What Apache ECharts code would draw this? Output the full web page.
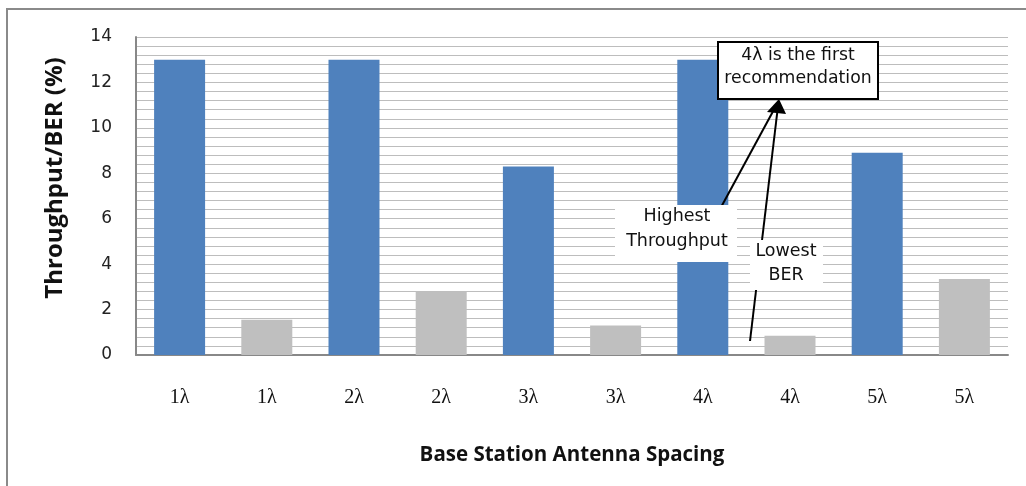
<!DOCTYPE html>
<html>
<head>
<meta charset="utf-8">
<title>Base Station Antenna Spacing</title>
<script src="https://cdn.jsdelivr.net/npm/echarts@6/dist/echarts.min.js"></script>
<style>
  html, body { margin: 0; padding: 0; background: #fff; }
  #main { width: 1026px; height: 486px; }
</style>
</head>
<body>
<div id="main"></div>
<script type="text/javascript">
  // categories along the x axis, one bar each
  var categories = ['1λ', '1λ', '2λ', '2λ', '3λ', '3λ', '4λ', '4λ', '5λ', '5λ'];
  // throughput (blue) and BER (grey) values, one per spacing
  var throughput = [13, 13, 8.3, 13, 8.9];
  var ber = [1.55, 2.8, 1.3, 0.85, 3.35];
  var yMin = 0, yMax = 14, yStep = 2;

  // interleave: blue bar on even slots, grey on odd ones
  var blueData = categories.map(function (c, i) { return i % 2 === 0 ? throughput[i / 2] : '-'; });
  var greyData = categories.map(function (c, i) { return i % 2 === 1 ? ber[(i - 1) / 2] : '-'; });

  var myChart = echarts.init(document.getElementById('main'));

  var annoFont = '"DejaVu Sans", Verdana, sans-serif';

  var option = {
    animation: false,
    grid: { left: 136, right: 18, top: 37, bottom: 131 },
    xAxis: {
      type: 'category',
      data: categories,
      axisTick: { show: false },
      axisLine: { lineStyle: { color: '#888', width: 2 } },
      axisLabel: {
        margin: 33,
        color: '#111',
        fontFamily: '"Liberation Serif", "Times New Roman", serif',
        fontSize: 20
      },
      name: 'Base Station Antenna Spacing',
      nameLocation: 'middle',
      nameGap: 90,
      nameTextStyle: {
        color: '#111',
        fontWeight: 'bold',
        fontFamily: '"Open Sans", sans-serif',
        fontSize: 20.5
      }
    },
    yAxis: {
      type: 'value',
      min: yMin,
      max: yMax,
      interval: yStep,
      axisLine: { show: true, lineStyle: { color: '#888', width: 2 } },
      axisTick: { show: false },
      axisLabel: {
        margin: 24,
        color: '#222',
        fontFamily: annoFont,
        fontSize: 17
      },
      splitLine: { lineStyle: { color: '#bdbdbd', width: 1 } },
      minorTick: { show: false, splitNumber: 5 },
      minorSplitLine: { show: true, lineStyle: { color: '#bdbdbd', width: 1 } }
    },
    series: [
      {
        name: 'Throughput',
        type: 'bar',
        stack: 'one',
        barWidth: 51,
        itemStyle: { color: '#4f81bd' },
        data: blueData
      },
      {
        name: 'BER',
        type: 'bar',
        stack: 'one',
        barWidth: 51,
        itemStyle: { color: '#bfbfbf' },
        data: greyData
      }
    ],
    graphic: [
      // outer frame
      {
        type: 'rect', z: 1, silent: true,
        shape: { x: 7, y: 9, width: 1040, height: 500 },
        style: { fill: 'none', stroke: '#8a8a8a', lineWidth: 2 }
      },
      // arrows
      {
        type: 'line', z: 50,
        shape: { x1: 700, y1: 246, x2: 777, y2: 104 },
        style: { stroke: '#000', lineWidth: 2 }
      },
      {
        type: 'line', z: 50,
        shape: { x1: 750, y1: 341, x2: 778, y2: 106 },
        style: { stroke: '#000', lineWidth: 2 }
      },
      {
        type: 'polygon', z: 50,
        shape: { points: [[779, 99], [767, 112], [786, 114]] },
        style: { fill: '#000' }
      },
      // label boxes
      {
        type: 'rect', z: 60,
        shape: { x: 718, y: 42, width: 160, height: 57 },
        style: { fill: '#fff', stroke: '#000', lineWidth: 2 }
      },
      {
        type: 'text', z: 61,
        x: 798, y: 67,
        style: {
          text: '4λ is the first\nrecommendation',
          align: 'center', verticalAlign: 'middle',
          font: '17.3px ' + annoFont, lineHeight: 23, fill: '#111'
        }
      },
      {
        type: 'rect', z: 60,
        shape: { x: 615, y: 205, width: 122, height: 57 },
        style: { fill: '#fff' }
      },
      {
        type: 'text', z: 61,
        x: 677, y: 229,
        style: {
          text: 'Highest\nThroughput',
          align: 'center', verticalAlign: 'middle',
          font: '17.5px ' + annoFont, lineHeight: 25, fill: '#111'
        }
      },
      {
        type: 'rect', z: 60,
        shape: { x: 750, y: 240, width: 73, height: 50 },
        style: { fill: '#fff' }
      },
      {
        type: 'text', z: 61,
        x: 786, y: 263,
        style: {
          text: 'Lowest\nBER',
          align: 'center', verticalAlign: 'middle',
          font: '17.5px ' + annoFont, lineHeight: 24, fill: '#111'
        }
      },
      // y axis title
      {
        type: 'text', z: 61,
        x: 55, y: 178, rotation: Math.PI / 2,
        style: {
          text: 'Throughput/BER (%)',
          align: 'center', verticalAlign: 'middle',
          font: 'bold 24px "Open Sans", sans-serif', fill: '#111'
        }
      }
    ]
  };

  myChart.setOption(option);
</script>
</body>
</html>
